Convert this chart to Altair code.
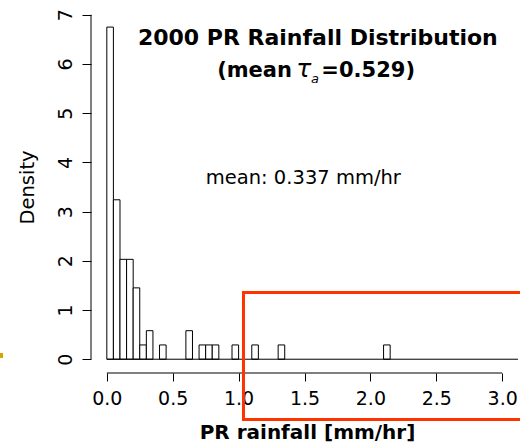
import altair as alt
import pandas as pd

FONT = "DejaVu Sans"

# Histogram of hourly rainfall (bin width 0.05 mm/hr); empty bins omitted
bin_width = 0.05
bin_start = [0.00, 0.05, 0.10, 0.15, 0.20, 0.25, 0.30, 0.40,
             0.60, 0.70, 0.75, 0.80, 0.95, 1.10, 1.30, 2.10]
density = [6.75, 3.24, 2.03, 2.03, 1.45, 0.29, 0.58, 0.29,
           0.58, 0.29, 0.29, 0.29, 0.29, 0.29, 0.29, 0.29]

x_ticks = [0.0, 0.5, 1.0, 1.5, 2.0, 2.5, 3.0]
y_ticks = [0, 1, 2, 3, 4, 5, 6, 7]

hist = pd.DataFrame({
    "start": bin_start,
    "end": [round(s + bin_width, 2) for s in bin_start],
    "density": density,
})
one = pd.DataFrame({"k": [0]})

# plot region padded by 4% beyond the axis limits
x_scale = alt.Scale(domain=[-0.12, 3.12], nice=False, zero=False)
y_scale = alt.Scale(domain=[-0.28, 7.28], nice=False, zero=False)

bars = alt.Chart(hist).mark_rect(fill="white", stroke="black", strokeWidth=1).encode(
    x=alt.X("start:Q", scale=x_scale,
            axis=alt.Axis(values=x_ticks, format=".1f", title="PR rainfall [mm/hr]",
                          domain=False, grid=False, tickSize=8, tickColor="black",
                          tickWidth=1, labelFont=FONT, labelFontSize=19,
                          labelColor="black", labelBaseline="alphabetic",
                          labelPadding=23, labelOverlap=False, labelFlush=False,
                          titleFont=FONT, titleFontSize=20, titleFontWeight="bold",
                          titleColor="black", titleBaseline="alphabetic",
                          titleX=216, titleY=65)),
    x2="end:Q",
    y=alt.Y("density:Q", scale=y_scale,
            axis=alt.Axis(values=y_ticks, format="d", title="Density",
                          domain=False, grid=False, tickSize=9, tickColor="black",
                          tickWidth=1, labelFont=FONT, labelFontSize=19,
                          labelColor="black", labelAngle=-90, labelAlign="center",
                          labelBaseline="alphabetic", labelPadding=11,
                          labelOverlap=False, labelFlush=False,
                          titleFont=FONT, titleFontSize=19.5, titleFontWeight="normal",
                          titleColor="black", titleAngle=-90,
                          titleBaseline="alphabetic", titleX=-58)),
    y2=alt.datum(0),
)

# zero-height bins form the baseline, clipped at the plot edge
baseline = alt.Chart(one).mark_rule(color="black", strokeWidth=1).encode(
    x=alt.datum(0), x2=alt.datum(3.12), y=alt.datum(0))

# axis lines spanning only the tick range
y_axis_line = alt.Chart(one).mark_rule(color="black", strokeWidth=1).encode(
    x=alt.value(0), y=alt.datum(0), y2=alt.datum(7))
x_axis_line = alt.Chart(one).mark_rule(color="black", strokeWidth=1).encode(
    x=alt.datum(0), x2=alt.datum(3), y=alt.value(372))

title1 = alt.Chart(one).mark_text(
    text="2000 PR Rainfall Distribution", font=FONT, fontSize=22, fontWeight="bold",
    align="center", baseline="alphabetic", color="black"
).encode(x=alt.datum(1.601), y=alt.datum(6.39))

title2a = alt.Chart(one).mark_text(
    text="(mean", font=FONT, fontSize=21, fontWeight="bold",
    align="right", baseline="alphabetic", color="black"
).encode(x=alt.datum(1.405), y=alt.datum(5.745))

title2tau = alt.Chart(one).mark_text(
    text="τ", font=FONT, fontSize=25, fontStyle="italic", fontWeight="normal",
    align="left", baseline="alphabetic", color="black"
).encode(x=alt.datum(1.437), y=alt.datum(5.745))

title2sub = alt.Chart(one).mark_text(
    text="a", font=FONT, fontSize=13, fontStyle="italic",
    align="left", baseline="alphabetic", color="black"
).encode(x=alt.datum(1.550), y=alt.datum(5.617))

title2b = alt.Chart(one).mark_text(
    text="=0.529)", font=FONT, fontSize=21, fontWeight="bold",
    align="left", baseline="alphabetic", color="black"
).encode(x=alt.datum(1.628), y=alt.datum(5.745))

mean_note = alt.Chart(one).mark_text(
    text="mean: 0.337 mm/hr", font=FONT, fontSize=19.5,
    align="center", baseline="alphabetic", color="black"
).encode(x=alt.datum(1.491), y=alt.datum(3.561))

# highlight box over the tail of the distribution
highlight = alt.Chart(one).mark_rect(
    fillOpacity=0, stroke="#ff3300", strokeWidth=3, clip=False
).encode(x=alt.datum(1.037), x2=alt.datum(3.4), y=alt.datum(1.357), y2=alt.datum(-1.226))

bullet = alt.Chart(one).mark_rect(color="#d9a300", clip=False).encode(
    x=alt.value(-91), x2=alt.value(-88), y=alt.value(352), y2=alt.value(357))

chart = alt.layer(
    bars, baseline, y_axis_line, x_axis_line,
    title1, title2a, title2tau, title2sub, title2b, mean_note,
    highlight, bullet,
).properties(
    width=427, height=372,
    autosize=alt.AutoSizeParams(type="none"),
    padding={"left": 91, "top": 1, "right": 2, "bottom": 73},
    background="white",
).configure_view(stroke=None)

chart.save("out.html", embed_options={"renderer": "svg", "actions": False})
